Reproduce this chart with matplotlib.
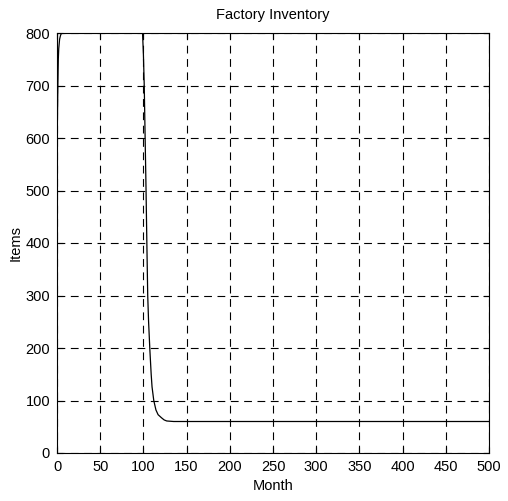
import matplotlib
matplotlib.use("Agg")
import matplotlib.pyplot as plt

# Data (month, inventory items)
months = [0, 0.5, 1, 1.5, 2, 3, 4, 5, 6, 8, 99, 100, 101, 102, 103, 104, 105, 106,
          107.5, 109, 110, 112, 114.5, 117, 121, 124, 127, 135, 200, 300, 400, 500]
items = [560, 640, 700, 750, 770, 788, 795, 799, 800, 800, 800, 760, 698, 600, 507, 400, 300, 250,
         196, 150, 126, 100, 82, 73, 67, 63, 61, 60, 60, 60, 60, 60]

xticks = [0, 50, 100, 150, 200, 250, 300, 350, 400, 450, 500]
yticks = [0, 100, 200, 300, 400, 500, 600, 700, 800]

plt.rcParams['font.family'] = ['Liberation Sans', 'DejaVu Sans']

fig = plt.figure(figsize=(5.08, 5.01), dpi=100)
ax = fig.add_axes([57/508, 48/501, 432/508, 420/501])
ax.plot(months, items, color='black', linewidth=0.9)
ax.set_xlim(0, 500)
ax.set_ylim(0, 800)
ax.set_xticks(xticks)
ax.set_yticks(yticks)
ax.grid(True, color='black', linestyle=(0, (7, 5)), linewidth=0.8)
ax.tick_params(direction='in', top=True, right=True, labelsize=10.5, length=4, width=0.8, pad=5)
for s in ax.spines.values():
    s.set_linewidth(0.8)
ax.set_title('Factory Inventory', fontsize=10.5, pad=10)
ax.set_xlabel('Month', fontsize=10.5, labelpad=4)
ax.set_ylabel('Items', fontsize=10.5, labelpad=2)
fig.savefig('out.png', dpi=100)
